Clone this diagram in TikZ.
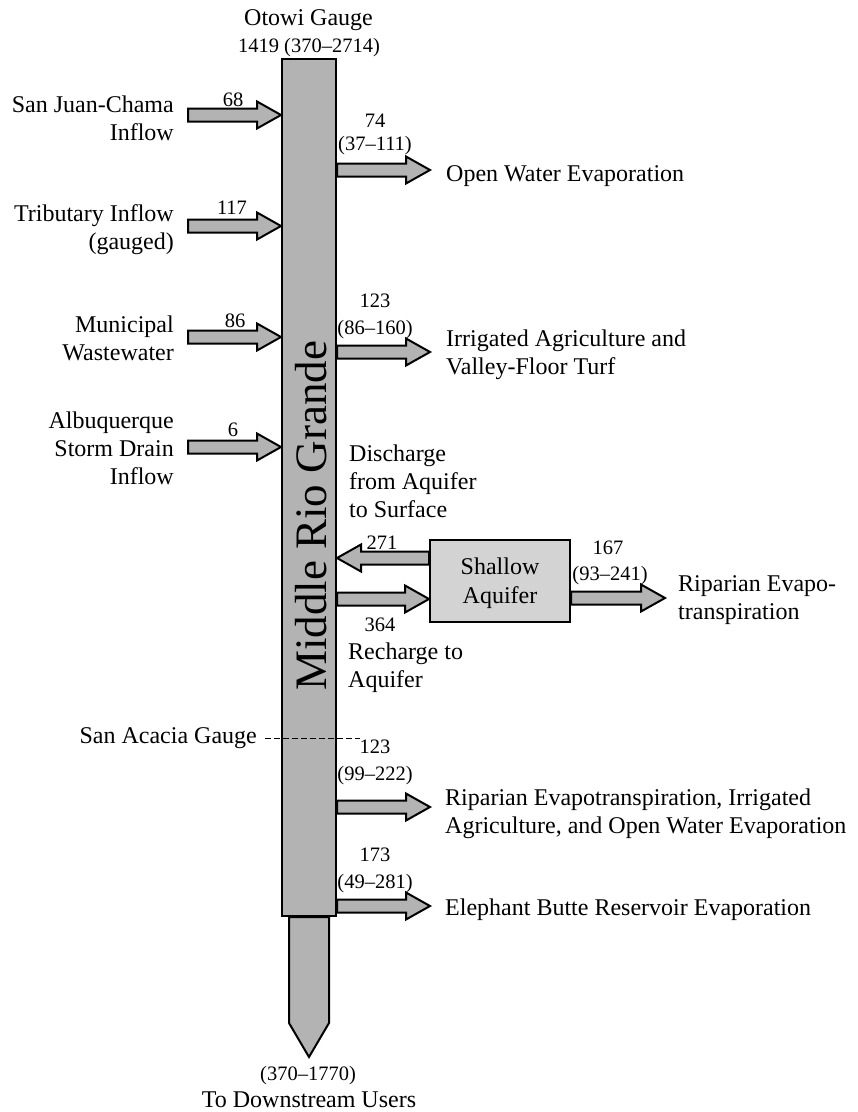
\documentclass[tikz,border=0pt]{standalone}
\usepackage{fontspec}
\setmainfont{Liberation Serif}
\usetikzlibrary{calc,backgrounds}

\definecolor{flowgray}{RGB}{179,179,179}
\definecolor{boxgray}{RGB}{211,211,211}

% stacked lines whose baseline is the first line's baseline
\newcommand\textlines[2]{\begin{tabular}[t]{@{}#1@{}}#2\end{tabular}}

% horizontal block arrow from #1 to the tip #2
\newcommand\flowarrow[2]{%
  \draw[flowarrow] let \p1=(#1), \p2=(#2),
      \n1={ifthenelse(\x2>\x1,1,-1)} in
    (\x1,\y1+6.5pt) -- (\x2-\n1*24pt,\y1+6.5pt) -- (\x2-\n1*24pt,\y1+13.5pt)
    -- (\x2,\y1) -- (\x2-\n1*24pt,\y1-13.5pt) -- (\x2-\n1*24pt,\y1-6.5pt)
    -- (\x1,\y1-6.5pt) -- cycle;}

\tikzset{
  lbl/.style={font=\fontsize{24}{28}\selectfont, inner sep=0pt},
  num/.style={font=\fontsize{20.5}{26}\selectfont, inner sep=0pt},
  flowarrow/.style={draw=black, line width=2pt, fill=flowgray, line join=miter},
  riverbox/.style={draw=black, line width=2pt, fill=flowgray,
    minimum width=54pt, minimum height=857pt, inner sep=0pt},
  aquiferbox/.style={draw=black, line width=2pt, fill=boxgray,
    minimum width=140pt, minimum height=82pt, inner sep=0pt, align=center,
    text depth=0pt, font=\fontsize{24}{29}\selectfont},
  gaugeline/.style={line width=1pt, dash pattern=on 6pt off 3pt},
}

\begin{document}
\begin{tikzpicture}[x=1pt,y=-1pt]
\useasboundingbox (0,0) rectangle (858,1112);

% main channel
\node[riverbox] (river) at (309,487.5) {};
\node[font=\fontsize{45}{50}\selectfont, inner sep=0pt, rotate=90] (rivername)
  at (311,516) {Middle Rio Grande};

% outflow to downstream users
\coordinate (down) at (309,1057);
\begin{scope}[on background layer]
  \draw[flowarrow] let \p1=(river.south), \p2=(down) in
    (\x1-20pt,\y1) -- (\x1+20pt,\y1) -- (\x1+20pt,\y2+34pt) -- (\x2,\y2)
    -- (\x1-20pt,\y2+34pt) -- cycle;
\end{scope}
\node[num, anchor=base] (downq) at (308,1080) {(370–1770)};
\node[lbl, anchor=base] (downlbl) at (309,1107) {To Downstream Users};

% upstream gauge
\node[lbl, anchor=base] (otowi) at (308.5,25.5) {Otowi Gauge};
\node[num, anchor=base] (otowiq) at (309,52) {1419 (370–2714)};

% inflows
\node[lbl, anchor=base east] (sjc) at (174,112) {\textlines{r}{San Juan-Chama\\Inflow}};
\node[lbl, anchor=base east] (trib) at (174,221) {\textlines{r}{Tributary Inflow\\(gauged)}};
\node[lbl, anchor=base east] (muni) at (174,332) {\textlines{r}{Municipal\\Wastewater}};
\node[lbl, anchor=base east] (abq) at (174,428) {\textlines{r}{Albuquerque\\Storm Drain\\Inflow}};

\coordinate (in1) at (188,115);
\coordinate (in2) at (188,226);
\coordinate (in3) at (188,337);
\coordinate (in4) at (188,447);
\flowarrow{in1}{river.west |- in1}
\flowarrow{in2}{river.west |- in2}
\flowarrow{in3}{river.west |- in3}
\flowarrow{in4}{river.west |- in4}
\node[num, anchor=base] (q1) at (233,106) {68};
\node[num, anchor=base] (q2) at (232,214) {117};
\node[num, anchor=base] (q3) at (235,327) {86};
\node[num, anchor=base] (q4) at (233,436) {6};

% depletions upstream of San Acacia
\coordinate (out1) at (430,170);
\coordinate (out2) at (430,352);
\flowarrow{river.east |- out1}{out1}
\flowarrow{river.east |- out2}{out2}
\node[num, anchor=base] (q5) at (375,127) {74};
\node[num, anchor=base] (q5r) at (375,150.5) {(37–111)};
\node[lbl, anchor=base west] (owe) at (446,181) {Open Water Evaporation};
\node[num, anchor=base] (q6) at (375,307) {123};
\node[num, anchor=base] (q6r) at (375,334) {(86–160)};
\node[lbl, anchor=base west] (irr) at (446,346)
  {\textlines{l}{Irrigated Agriculture and\\Valley-Floor Turf}};

% exchange with the shallow aquifer
\node[aquiferbox] (aq) at (500,580.5) {Shallow\\Aquifer};
\coordinate (dis) at ([yshift=22.5pt]aq.west);
\coordinate (rch) at ([yshift=-18.5pt]aq.west);
\coordinate (rip) at (665,598);
\flowarrow{dis}{river.east |- dis}
\flowarrow{river.east |- rch}{rch}
\flowarrow{aq.east |- rip}{rip}
\node[lbl, anchor=base west] (dislbl) at (349,461)
  {\textlines{l}{Discharge\\from Aquifer\\to Surface}};
\node[num, anchor=base] (q7) at (382,549) {271};
\node[num, anchor=base] (q8) at (380,631) {364};
\node[lbl, anchor=base west] (rchlbl) at (348,659) {\textlines{l}{Recharge to\\Aquifer}};
\node[num, anchor=base] (q9) at (608,554) {167};
\node[num, anchor=base] (q9r) at (610,580) {(93–241)};
\node[lbl, anchor=base west] (riplbl) at (678,591)
  {\textlines{l}{Riparian Evapo-\\transpiration}};

% San Acacia gauge
\node[lbl, anchor=east] (sag) at (257,738) {San Acacia Gauge};
\coordinate (sagend) at (360,738);
\draw[gaugeline] ([xshift=8pt]sag.east) -- (sagend);

% depletions downstream of San Acacia
\coordinate (out3) at (430,807);
\coordinate (out4) at (430,906);
\flowarrow{river.east |- out3}{out3}
\flowarrow{river.east |- out4}{out4}
\node[num, anchor=base] (q10) at (375,753) {123};
\node[num, anchor=base] (q10r) at (375,780.5) {(99–222)};
\node[lbl, anchor=base west] (mix) at (445,805)
  {\textlines{l}{Riparian Evapotranspiration, Irrigated\\Agriculture, and Open Water Evaporation}};
\node[num, anchor=base] (q11) at (375,861.5) {173};
\node[num, anchor=base] (q11r) at (375,888.5) {(49–281)};
\node[lbl, anchor=base west] (ebr) at (445,915) {Elephant Butte Reservoir Evaporation};
\end{tikzpicture}
\end{document}
